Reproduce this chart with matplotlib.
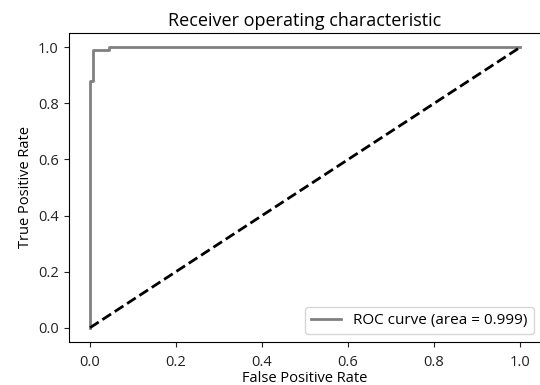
import numpy as np
import matplotlib
matplotlib.use("Agg")
import matplotlib.pyplot as plt

# ROC curve points
fpr = [0.0, 0.0, 0.007, 0.007, 0.045, 0.045, 1.0]
tpr = [0.0, 0.88, 0.88, 0.99, 0.99, 1.0, 1.0]
roc_auc = 0.999

plt.rcParams["font.family"] = ["Open Sans", "DejaVu Sans"]

fig = plt.figure(figsize=(5.4, 3.85), dpi=100)
ax = fig.add_axes([0.127, 0.1125, 0.876, 0.801])

ax.plot(fpr, tpr, color="gray", lw=2, label="ROC curve (area = %0.3f)" % roc_auc)
ax.plot([0, 1], [0, 1], color="black", lw=2, linestyle="--")

ax.set_xlim(-0.05, 1.05)
ax.set_ylim(-0.05, 1.05)
ax.set_xticks([0, 0.2, 0.4, 0.6, 0.8, 1.0])
ax.set_yticks([0, 0.2, 0.4, 0.6, 0.8, 1.0])
ax.tick_params(labelsize=10.5, colors="#222222")
ax.tick_params(axis="x", pad=6)
ax.set_xlabel("False Positive Rate", fontsize=10.5, labelpad=1)
ax.set_ylabel("True Positive Rate", fontsize=10.5)
ax.set_title("Receiver operating characteristic", fontsize=13, pad=5)
ax.legend(loc="lower right", fontsize=11)

fig.savefig("out.png", dpi=100)
